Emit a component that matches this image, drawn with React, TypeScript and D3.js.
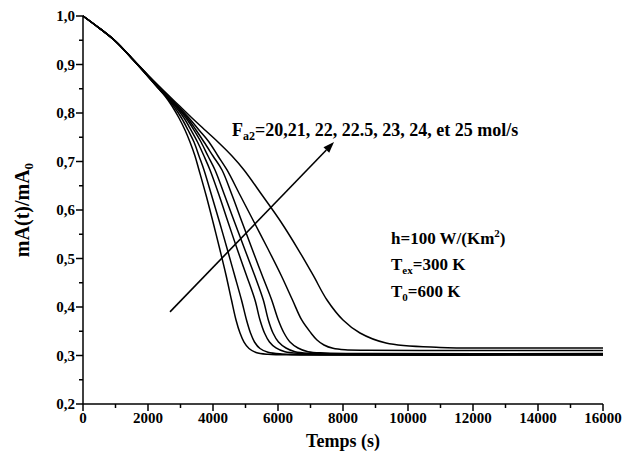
import React from "react";
import * as d3 from "d3";

// ---- data ----
const xTicks = [0, 2000, 4000, 6000, 8000, 10000, 12000, 14000, 16000];
const yTicks = [0.2, 0.3, 0.4, 0.5, 0.6, 0.7, 0.8, 0.9, 1.0];
const flowRates = [20, 21, 22, 22.5, 23, 24, 25];

// shared initial decline (t [s], mA(t)/mA0)
const commonStart: [number, number][] = [
  [0, 1.0], [500, 0.975], [1000, 0.948], [1500, 0.913],
];

const curve20: [number, number][] = [
  [2000, 0.875], [2300, 0.852],
  [2523, 0.8351], [2738, 0.8144], [2954, 0.7897], [3138, 0.7649], [3292, 0.7402], [3446, 0.7113],
  [3569, 0.6825], [3785, 0.6309], [4000, 0.5753], [4215, 0.5175], [4400, 0.4660], [4569, 0.4144],
  [4708, 0.3732], [4831, 0.3464], [4954, 0.3278], [5108, 0.3144], [5323, 0.3062], [5692, 0.3025],
  [6677, 0.3012], [16000, 0.3010],
];
const curve21: [number, number][] = [
  [2000, 0.8755], [2300, 0.8525],
  [2538, 0.8351], [2785, 0.8144], [3031, 0.7897], [3231, 0.7649], [3415, 0.7402], [3569, 0.7113],
  [3723, 0.6825], [3954, 0.6309], [4200, 0.5753], [4446, 0.5175], [4662, 0.4660], [4877, 0.4144],
  [5031, 0.3732], [5154, 0.3464], [5277, 0.3278], [5446, 0.3144], [5692, 0.3066], [6123, 0.3031],
  [7292, 0.3017], [16000, 0.3015],
];
const curve22: [number, number][] = [
  [2000, 0.876], [2300, 0.853],
  [2554, 0.8351], [2831, 0.8144], [3108, 0.7897], [3323, 0.7649], [3523, 0.7402], [3723, 0.7113],
  [3908, 0.6825], [4185, 0.6309], [4462, 0.5753], [4754, 0.5175], [5025, 0.4660], [5292, 0.4144],
  [5446, 0.3732], [5585, 0.3464], [5738, 0.3278], [5938, 0.3155], [6215, 0.3076], [6677, 0.3041],
  [7908, 0.3025], [16000, 0.3021],
];
const curve225: [number, number][] = [
  [2000, 0.8765], [2300, 0.8535],
  [2569, 0.8351], [2862, 0.8144], [3169, 0.7897], [3415, 0.7649], [3631, 0.7402], [3846, 0.7113],
  [4062, 0.6825], [4354, 0.6309], [4662, 0.5753], [4985, 0.5175], [5277, 0.4660], [5548, 0.4144],
  [5702, 0.3732], [5846, 0.3464], [6015, 0.3278], [6246, 0.3155], [6523, 0.3078], [7046, 0.3045],
  [8215, 0.3031], [16000, 0.3027],
];
const curve23: [number, number][] = [
  [2000, 0.877], [2300, 0.854],
  [2585, 0.8351], [2892, 0.8144], [3215, 0.7897], [3477, 0.7649], [3723, 0.7402], [4000, 0.7113],
  [4277, 0.6825], [4585, 0.6309], [4892, 0.5753], [5215, 0.5175], [5508, 0.4660], [5806, 0.4144],
  [6009, 0.3732], [6185, 0.3464], [6369, 0.3278], [6615, 0.3155], [6923, 0.3078], [7446, 0.3052],
  [8831, 0.3041], [16000, 0.3039],
];
const curve24: [number, number][] = [
  [2000, 0.8775], [2300, 0.855],
  [2600, 0.8351], [2923, 0.8144], [3262, 0.7897], [3569, 0.7649], [3877, 0.7402], [4154, 0.7113],
  [4431, 0.6825], [4831, 0.6309], [5262, 0.5753], [5708, 0.5175], [6092, 0.4660], [6446, 0.4144],
  [6729, 0.3732], [7015, 0.3464], [7200, 0.3320], [7415, 0.3216], [7692, 0.3148], [8062, 0.3117],
  [8738, 0.3107], [10369, 0.3103], [16000, 0.3103],
];
const curve25: [number, number][] = [
  [2000, 0.8784], [2462, 0.8474], [2923, 0.8175], [3354, 0.7897], [3769, 0.7639], [4169, 0.7392],
  [4585, 0.7113], [4954, 0.6825], [5508, 0.6309], [6092, 0.5753], [6631, 0.5175], [7077, 0.4660],
  [7508, 0.4144], [8000, 0.3732], [8523, 0.3464], [9323, 0.3258], [10985, 0.3165], [13446, 0.3155],
  [16000, 0.3155],
];
const seriesList = [curve20, curve21, curve22, curve225, curve23, curve24, curve25];

// annotation anchors in data units
const arrowFrom: [number, number] = [2677, 0.39];
const arrowTo: [number, number] = [7723, 0.74];
const flowLabelPos: [number, number] = [4585, 0.7526];
const paramPos: [number, number] = [9477, 0.529];
const paramLines = ["h=100 W/(Km", "T", "T"];

const W = 636;
const H = 466;
const FONT = "'Liberation Serif', 'Times New Roman', serif";

export default function App() {
  const x = d3.scaleLinear().domain([0, 16000]).range([83, 603]);
  const y = d3.scaleLinear().domain([0.2, 1.0]).range([404, 16]);

  const line = d3
    .line<[number, number]>()
    .x((d) => x(d[0]))
    .y((d) => y(d[1]))
    .curve(d3.curveCatmullRom.alpha(0.5));

  const xMinor = d3.range(0, 16001, 1000);
  const yMinor = d3.range(0, 17).map((i) => 0.2 + i * 0.05);
  const fmtY = (v: number) => v.toFixed(1).replace(".", ",");

  // arrow geometry
  const ax1 = x(arrowFrom[0]), ay1 = y(arrowFrom[1]);
  const ax2 = x(arrowTo[0]), ay2 = y(arrowTo[1]);
  const ang = Math.atan2(ay2 - ay1, ax2 - ax1);
  const hl = 11, hw = 4;
  const bx = ax2 - hl * Math.cos(ang), by = ay2 - hl * Math.sin(ang);
  const head = [
    [ax2, ay2],
    [bx + hw * Math.sin(ang), by - hw * Math.cos(ang)],
    [bx - hw * Math.sin(ang), by + hw * Math.cos(ang)],
  ];

  const px = x(paramPos[0]);
  const py = y(paramPos[1]);

  return (
    <svg width={W} height={H} style={{ position: "absolute", left: 0, top: 0 }} fontFamily={FONT} fontWeight="bold">
      <rect width={W} height={H} fill="#fff" />
      {/* curves */}
      <g fill="none" stroke="#000" strokeWidth={1.5}>
        {seriesList.map((s, i) => (
          <path key={flowRates[i]} d={line([...commonStart, ...s]) || ""} />
        ))}
      </g>
      {/* axes */}
      <g stroke="#000" strokeWidth={1.5} fill="none">
        <line x1={x(0)} x2={x(16000)} y1={y(0.2)} y2={y(0.2)} />
        <line x1={x(0)} x2={x(0)} y1={y(0.2)} y2={y(1.0)} />
        {xMinor.map((t) => (
          <line key={"xm" + t} x1={x(t)} x2={x(t)} y1={y(0.2)} y2={y(0.2) + (t % 2000 === 0 ? 7 : 4)} />
        ))}
        {yMinor.map((v, i) => (
          <line key={"ym" + i} x1={x(0)} x2={x(0) - (i % 2 === 0 ? 7 : 4)} y1={y(v)} y2={y(v)} />
        ))}
      </g>
      <g fontSize={15} fill="#000">
        {xTicks.map((t) => (
          <text key={"xl" + t} x={x(t)} y={423} textAnchor="middle">{t}</text>
        ))}
        {yTicks.map((v) => (
          <text key={"yl" + v} x={75} y={y(v) + 5} textAnchor="end">{fmtY(v)}</text>
        ))}
      </g>
      <text x={(x(0) + x(16000)) / 2} y={447} textAnchor="middle" fontSize={18}>Temps (s)</text>
      <text transform={`translate(29,${(y(0.2) + y(1.0)) / 2}) rotate(-90)`} textAnchor="middle" fontSize={20}>
        mA(t)/mA<tspan fontSize={13} dy={4}>0</tspan>
      </text>
      {/* arrow */}
      <line x1={ax1} y1={ay1} x2={bx} y2={by} stroke="#000" strokeWidth={1.6} />
      <polygon points={head.map((p) => p.join(",")).join(" ")} fill="#000" />
      {/* labels */}
      <text x={x(flowLabelPos[0])} y={y(flowLabelPos[1])} fontSize={18}>
        F<tspan fontSize={12} dy={4}>a2</tspan>
        <tspan dy={-4}>={flowRates[0]},{flowRates[1]}, {flowRates[2]}, {flowRates[3]}, {flowRates[4]}, {flowRates[5]}, et {flowRates[6]} mol/s</tspan>
      </text>
      <text x={px} y={py} fontSize={17}>
        {paramLines[0]}<tspan fontSize={11} dy={-7}>2</tspan><tspan dy={7}>)</tspan>
      </text>
      <text x={px} y={py + 26} fontSize={17}>
        {paramLines[1]}<tspan fontSize={11} dy={4}>ex</tspan><tspan dy={-4}>=300 K</tspan>
      </text>
      <text x={px} y={py + 53} fontSize={17}>
        {paramLines[2]}<tspan fontSize={11} dy={4}>0</tspan><tspan dy={-4}>=600 K</tspan>
      </text>
    </svg>
  );
}
